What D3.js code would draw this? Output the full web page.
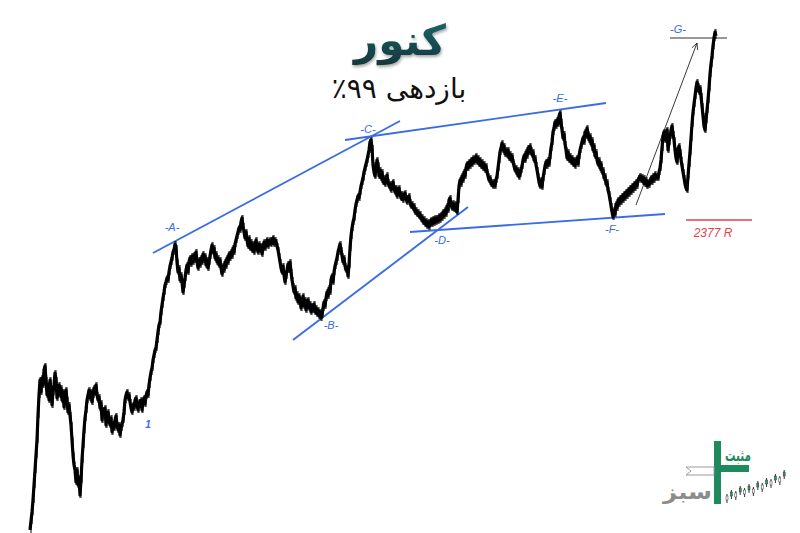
<!DOCTYPE html>
<html>
<head>
<meta charset="utf-8">
<script src="https://cdn.jsdelivr.net/npm/d3@7"></script>
<style>
  html, body { margin: 0; padding: 0; background: #ffffff; }
  svg { display: block; }
</style>
</head>
<body>
<svg id="chart" width="800" height="533"></svg>
<script>
// ---------- DATA ----------
// one close per session (session index 0..686)
const closes = [
  3, 12, 21, 33, 48, 63, 78, 93, 118, 138,
  153, 141, 155, 148, 163, 167, 153, 138, 148, 133,
  153, 143, 128, 141, 148, 160, 153, 135, 141, 148,
  138, 145, 133, 141, 126, 138, 143, 133, 121, 128,
  118, 108, 93, 78, 68, 63, 51, 63, 48, 55,
  38, 53, 73, 88, 103, 115, 123, 133, 138, 143,
  135, 141, 131, 138, 145, 140, 148, 138, 133, 136,
  125, 130, 113, 123, 118, 125, 108, 115, 121, 113,
  108, 115, 101, 109, 105, 113, 117, 108, 103, 108,
  98, 105, 109, 113, 121, 133, 138, 141, 135, 138,
  131, 125, 121, 128, 125, 133, 135, 128, 123, 131,
  128, 133, 123, 131, 135, 129, 137, 141, 138, 148,
  155, 161, 165, 173, 178, 183, 185, 193, 201, 208,
  211, 221, 228, 235, 241, 248, 251, 255, 253, 261,
  267, 271, 275, 281, 283, 289, 285, 271, 261, 265,
  253, 258, 251, 241, 248, 255, 263, 268, 261, 271,
  275, 269, 277, 271, 278, 273, 281, 271, 265, 273,
  268, 275, 271, 279, 273, 277, 268, 273, 265, 271,
  277, 283, 288, 281, 285, 275, 279, 271, 275, 268,
  273, 265, 259, 267, 263, 271, 267, 275, 271, 279,
  275, 281, 277, 285, 281, 289, 293, 297, 301, 305,
  303, 311, 315, 307, 301, 295, 301, 293, 287, 295,
  285, 291, 283, 289, 281, 287, 293, 285, 281, 289,
  283, 287, 279, 285, 291, 285, 289, 293, 287, 291,
  293, 289, 293, 295, 289, 293, 291, 287, 283, 277,
  271, 265, 261, 267, 258, 251, 257, 263, 269, 263,
  271, 261, 253, 247, 241, 245, 235, 239, 231, 237,
  233, 225, 231, 237, 227, 233, 223, 229, 233, 225,
  229, 221, 227, 223, 229, 221, 225, 219, 223, 217,
  221, 215, 218, 225, 231, 227, 235, 241, 237, 245,
  241, 253, 257, 251, 261, 267, 271, 275, 281, 285,
  289, 283, 277, 271, 275, 267, 263, 265, 257, 268,
  285, 297, 305, 311, 315, 323, 329, 333, 337, 335,
  341, 347, 351, 355, 361, 365, 369, 373, 378, 383,
  391, 393, 385, 368, 361, 357, 365, 373, 368, 357,
  363, 355, 361, 351, 355, 349, 353, 358, 351, 347,
  349, 343, 347, 351, 345, 341, 345, 337, 341, 345,
  339, 335, 339, 333, 336, 340, 335, 331, 335, 337,
  331, 327, 329, 325, 327, 321, 323, 319, 321, 317,
  319, 314, 316, 311, 314, 309, 312, 307, 311, 306,
  309, 313, 309, 314, 310, 315, 311, 315, 312, 317,
  313, 318, 315, 321, 317, 323, 319, 327, 323, 333,
  335, 329, 325, 330, 324, 329, 323, 321, 333, 347,
  353, 349, 357, 353, 361, 357, 365, 369, 365, 371,
  367, 373, 369, 375, 371, 373, 377, 371, 375, 369,
  373, 367, 371, 365, 369, 363, 367, 361, 357, 353,
  355, 349, 351, 347, 351, 347, 353, 357, 365, 373,
  381, 385, 390, 383, 387, 379, 383, 378, 383, 375,
  379, 373, 377, 371, 367, 363, 365, 359, 363, 356,
  359, 363, 367, 373, 377, 373, 381, 377, 385, 381,
  387, 383, 378, 381, 373, 375, 368, 363, 357, 351,
  347, 353, 346, 355, 361, 367, 371, 367, 373, 369,
  377, 385, 391, 401, 405, 411, 407, 413, 409, 417,
  420, 411, 403, 395, 399, 389, 383, 375, 381, 373,
  377, 371, 375, 369, 373, 367, 371, 375, 369, 377,
  383, 387, 391, 395, 391, 401, 397, 405, 399, 393,
  397, 389, 393, 383, 387, 377, 381, 373, 369, 373,
  365, 369, 361, 363, 355, 357, 349, 351, 343, 339,
  333, 327, 321, 316, 323, 319, 329, 325, 333, 329,
  335, 331, 337, 333, 339, 335, 341, 337, 343, 339,
  345, 341, 347, 343, 349, 345, 351, 347, 353, 355,
  357, 353, 356, 351, 355, 349, 353, 347, 351, 348,
  351, 355, 351, 357, 353, 359, 355, 357, 355, 361,
  365, 373, 385, 397, 401, 393, 399, 403, 383, 391,
  397, 403, 407, 399, 393, 383, 375, 371, 383, 387,
  381, 373, 367, 361, 355, 349, 345, 343, 357, 369,
  381, 395, 409, 421, 429, 437, 445, 451, 447, 441,
  445, 437, 427, 417, 407, 403, 413, 423, 433, 445,
  459, 469, 477, 487, 495, 501, 497
];

// blue trend / channel lines: [session, value] -> [session, value]
const trendLines = [
  [[123, 280], [370, 412]],   // A - C
  [[315, 393], [576, 430]],   // C - E
  [[263, 193], [438, 326]],   // B - D
  [[380, 301], [635, 319]]    // D - F
];
// wave labels
const waveLabels = ["-A-", "-B-", "-C-", "-D-", "-E-", "-F-", "-G-"];
const waveLabelSession = [142, 301, 338, 412, 530, 582, 648];
const waveLabelValue   = [305, 207, 403, 292, 434, 303, 503];

const targetLevel = [[640, 495], [697, 495]];   // G level (grey)
const supportLevel = [[656, 313], [722, 313]];  // red level
const supportText = "2377 R";
const supportTextPos = [683, 299];
const projectionArrow = [[606, 328], [667, 490]];
const startMarkText = "1";
const startMarkPos = [118, 108];

const titleText = "کنور";
const subtitleText = "بازدهی ۹۹٪";

// ---------- DRAW ----------
const svg = d3.select("#chart");

const x = d3.scaleLinear().domain([0, closes.length - 1]).range([30, 716]);
const y = d3.scaleLinear().domain([0, 533]).range([533, 0]);

const defs = svg.append("defs");
const sh = defs.append("filter").attr("id", "tshadow").attr("x", "-20%").attr("y", "-20%").attr("width", "140%").attr("height", "160%");
sh.append("feDropShadow").attr("dx", 1).attr("dy", 2).attr("stdDeviation", 1.5).attr("flood-color", "#000").attr("flood-opacity", 0.35);
const grad = defs.append("linearGradient").attr("id", "tgrad").attr("x1", 0).attr("y1", 0).attr("x2", 0).attr("y2", 1);
grad.append("stop").attr("offset", "0%").attr("stop-color", "#1e6a6e");
grad.append("stop").attr("offset", "100%").attr("stop-color", "#12353a");

// title
svg.append("text")
  .attr("x", 400).attr("y", 55)
  .attr("text-anchor", "middle")
  .attr("font-family", "DejaVu Sans, Noto Sans, sans-serif")
  .attr("font-weight", "bold")
  .attr("font-size", 42)
  .attr("fill", "url(#tgrad)")
  .attr("filter", "url(#tshadow)")
  .text(titleText);

svg.append("text")
  .attr("x", 399).attr("y", 98)
  .attr("text-anchor", "middle")
  .attr("font-family", "DejaVu Sans, Noto Sans, sans-serif")
  .attr("font-size", 28)
  .attr("fill", "#111")
  .attr("direction", "rtl")
  .text(subtitleText);

// trend lines
const blue = "#3a6de3";
svg.append("g").selectAll("line").data(trendLines).join("line")
  .attr("x1", d => x(d[0][0])).attr("y1", d => y(d[0][1]))
  .attr("x2", d => x(d[1][0])).attr("y2", d => y(d[1][1]))
  .attr("stroke", blue).attr("stroke-width", 1.9);

// G level
svg.append("line")
  .attr("x1", x(targetLevel[0][0])).attr("y1", y(targetLevel[0][1]))
  .attr("x2", x(targetLevel[1][0])).attr("y2", y(targetLevel[1][1]))
  .attr("stroke", "#333").attr("stroke-width", 1.1);

// red level
svg.append("line")
  .attr("x1", x(supportLevel[0][0])).attr("y1", y(supportLevel[0][1]))
  .attr("x2", x(supportLevel[1][0])).attr("y2", y(supportLevel[1][1]))
  .attr("stroke", "#e0434f").attr("stroke-width", 1.6);
svg.append("text")
  .attr("x", x(supportTextPos[0])).attr("y", y(supportTextPos[1]))
  .attr("text-anchor", "middle")
  .attr("dominant-baseline", "middle")
  .attr("font-family", "Liberation Sans, Arial, sans-serif")
  .attr("font-style", "italic")
  .attr("font-size", 12)
  .attr("fill", "#e0434f")
  .text(supportText);

// projection arrow
const ax1 = x(projectionArrow[0][0]), ay1 = y(projectionArrow[0][1]);
const ax2 = x(projectionArrow[1][0]), ay2 = y(projectionArrow[1][1]);
svg.append("line").attr("x1", ax1).attr("y1", ay1).attr("x2", ax2).attr("y2", ay2)
  .attr("stroke", "#222").attr("stroke-width", 0.9);
const ang = Math.atan2(ay2 - ay1, ax2 - ax1);
const hl = 7;
svg.append("path")
  .attr("d", `M${ax2 - hl*Math.cos(ang - 0.45)},${ay2 - hl*Math.sin(ang - 0.45)} L${ax2},${ay2} L${ax2 - hl*Math.cos(ang + 0.45)},${ay2 - hl*Math.sin(ang + 0.45)}`)
  .attr("fill", "none").attr("stroke", "#222").attr("stroke-width", 0.9);

// price: thin session range wicks (between consecutive closes) + thick close line
const wicks = closes.slice(1).map((c, i) => [i + 1, Math.min(c, closes[i]), Math.max(c, closes[i])]);
svg.append("g").selectAll("line").data(wicks).join("line")
  .attr("x1", d => x(d[0])).attr("x2", d => x(d[0]))
  .attr("y1", d => y(d[1]) + 3).attr("y2", d => y(d[2]) - 3)
  .attr("stroke", "#111").attr("stroke-width", 1);
const line = d3.line().x((d, i) => x(i)).y(d => y(d));
svg.append("path")
  .datum(closes)
  .attr("d", line)
  .attr("fill", "none")
  .attr("stroke", "#000")
  .attr("stroke-width", 3.2)
  .attr("stroke-linejoin", "round");

// wave labels
svg.append("g").selectAll("text").data(waveLabels).join("text")
  .attr("x", (d, i) => x(waveLabelSession[i]))
  .attr("y", (d, i) => y(waveLabelValue[i]))
  .attr("text-anchor", "middle")
  .attr("dominant-baseline", "middle")
  .attr("font-family", "Liberation Sans, Arial, sans-serif")
  .attr("font-style", "italic")
  .attr("font-size", 11)
  .attr("fill", blue)
  .text(d => d);

svg.append("text")
  .attr("x", x(startMarkPos[0])).attr("y", y(startMarkPos[1]))
  .attr("text-anchor", "middle").attr("dominant-baseline", "middle")
  .attr("font-family", "Liberation Sans, Arial, sans-serif")
  .attr("font-style", "italic").attr("font-weight", "bold")
  .attr("font-size", 10).attr("fill", blue)
  .text(startMarkText);

// ---------- LOGO (bottom right) ----------
const logo = svg.append("g");
const green = "#1f8a5b";
logo.append("rect").attr("x", 714).attr("y", 441).attr("width", 7).attr("height", 63).attr("fill", green);
logo.append("rect").attr("x", 721).attr("y", 465).attr("width", 28).attr("height", 7).attr("fill", green);
logo.append("path").attr("d", "M686,467 L714,467 L714,475 L686,475 L691,471 Z")
  .attr("fill", "#fff").attr("stroke", "#9a9a9a").attr("stroke-width", 1);
logo.append("text").attr("x", 725).attr("y", 461)
  .attr("font-family", "DejaVu Sans, sans-serif").attr("font-weight", "bold")
  .attr("font-size", 17).attr("fill", green)
  .attr("textLength", 26).attr("lengthAdjust", "spacingAndGlyphs")
  .text("مثبت");
logo.append("text").attr("x", 663).attr("y", 499)
  .attr("font-family", "DejaVu Sans, sans-serif").attr("font-weight", "bold")
  .attr("font-size", 21).attr("fill", "#8c8c8c")
  .attr("textLength", 49).attr("lengthAdjust", "spacingAndGlyphs")
  .text("سبز");
const logoCandles = [6, 10, 9, 14, 12, 16, 13, 19, 17, 22, 21, 26, 24, 30];
const lc = logo.append("g");
lc.selectAll("line").data(logoCandles).join("line")
  .attr("x1", (d, i) => 727 + i * 4.4).attr("x2", (d, i) => 727 + i * 4.4)
  .attr("y1", d => 500 - d).attr("y2", d => 500 - d + 9)
  .attr("stroke", "#333").attr("stroke-width", 1);
lc.selectAll("rect").data(logoCandles).join("rect")
  .attr("x", (d, i) => 726 + i * 4.4).attr("y", d => 502 - d).attr("width", 2).attr("height", 4)
  .attr("fill", (d, i) => i % 2 ? "#2a9d5c" : "#fff").attr("stroke", "#333").attr("stroke-width", 0.5);
</script>
</body>
</html>
